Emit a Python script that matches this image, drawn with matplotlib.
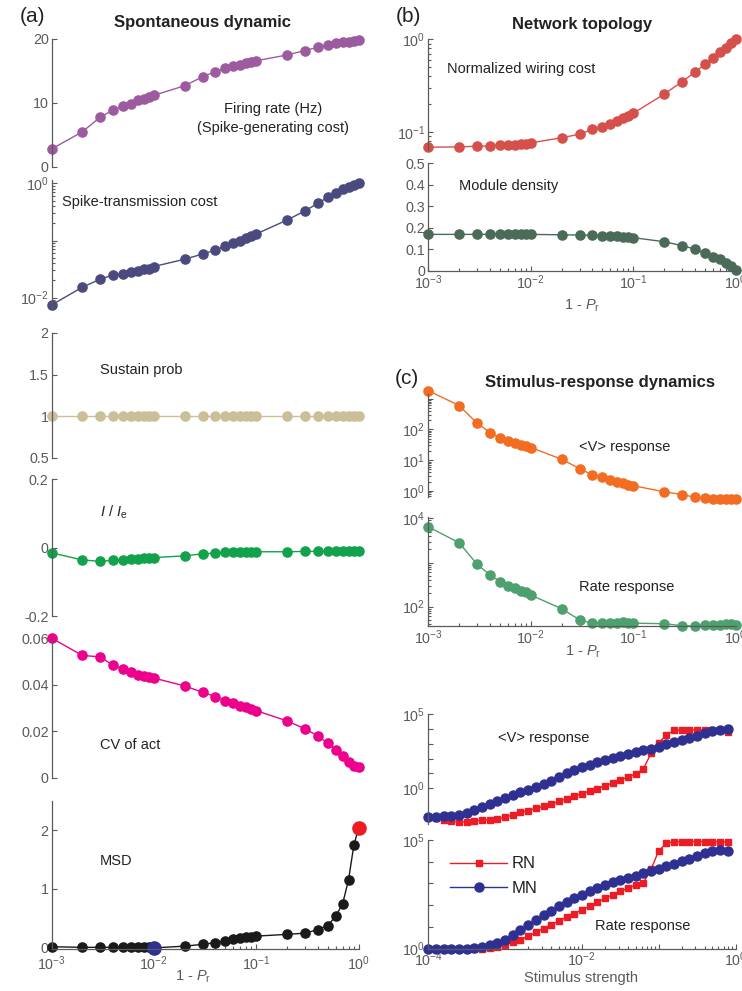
import numpy as np
import matplotlib
matplotlib.use('Agg')
from matplotlib import pyplot as plt
from matplotlib.ticker import NullFormatter, NullLocator, LogLocator, FuncFormatter

plt.rcParams['font.family'] = ['Liberation Sans', 'DejaVu Sans']
plt.rcParams['mathtext.fontset'] = 'custom'
plt.rcParams['mathtext.rm'] = 'Liberation Sans'
plt.rcParams['mathtext.it'] = 'Liberation Sans:italic'
plt.rcParams['mathtext.bf'] = 'Liberation Sans:bold'
plt.rcParams['axes.unicode_minus'] = False

# ---- data: 1 - Pr sweep ----
pr = [0.001, 0.002, 0.003, 0.004, 0.005, 0.006, 0.007, 0.008, 0.009, 0.01,
      0.02, 0.03, 0.04, 0.05, 0.06, 0.07, 0.08, 0.09, 0.1,
      0.2, 0.3, 0.4, 0.5, 0.6, 0.7, 0.8, 0.9, 1.0]
firing = [2.8, 5.5, 7.8, 8.9, 9.5, 9.9, 10.4, 10.7, 10.9, 11.2,
          12.7, 14.1, 14.9, 15.4, 15.8, 16.0, 16.2, 16.4, 16.6,
          17.5, 18.2, 18.7, 19.1, 19.3, 19.5, 19.6, 19.7, 19.8]
spike_cost = [0.0074, 0.0152, 0.021, 0.025, 0.026, 0.0285, 0.0296, 0.0314, 0.032, 0.035,
              0.047, 0.058, 0.068, 0.080, 0.091, 0.099, 0.109, 0.12, 0.13,
              0.228, 0.33, 0.447, 0.57, 0.69, 0.79, 0.87, 0.94, 1.0]
sustain = [1, 1, 1, 1, 1, 1, 1, 1, 1, 1,
           1, 1, 1, 1, 1, 1, 1, 1, 1,
           1, 1, 1, 1, 1, 1, 1, 1, 1]
ratio_ie = [-0.015, -0.036, -0.040, -0.037, -0.035, -0.034, -0.032, -0.031, -0.030, -0.029,
            -0.024, -0.018, -0.016, -0.014, -0.0135, -0.013, -0.013, -0.013, -0.012,
            -0.012, -0.011, -0.011, -0.011, -0.011, -0.011, -0.011, -0.011, -0.011]
cv_act = [0.060, 0.0525, 0.0519, 0.0482, 0.0469, 0.0452, 0.0443, 0.0437, 0.0434, 0.0428,
          0.0394, 0.0367, 0.0348, 0.0331, 0.032, 0.031, 0.0303, 0.0295, 0.0288,
          0.0244, 0.021, 0.018, 0.0148, 0.0119, 0.0093, 0.0069, 0.0052, 0.0045]
msd = [0.02, 0.01, 0.01, 0.01, 0.01, 0.01, 0.01, 0.01, 0.01, 0.0,
       0.03, 0.06, 0.09, 0.12, 0.15, 0.17, 0.18, 0.19, 0.2,
       0.23, 0.25, 0.31, 0.38, 0.54, 0.75, 1.16, 1.74, 2.03]
wiring = [0.068, 0.0685, 0.0697, 0.070, 0.0717, 0.072, 0.0725, 0.073, 0.074, 0.0757,
          0.086, 0.094, 0.106, 0.113, 0.121, 0.131, 0.139, 0.148, 0.158,
          0.254, 0.347, 0.439, 0.536, 0.622, 0.72, 0.81, 0.905, 1.0]
module = [0.170, 0.170, 0.170, 0.170, 0.170, 0.170, 0.170, 0.170, 0.170, 0.170,
          0.168, 0.167, 0.165, 0.164, 0.163, 0.162, 0.160, 0.158, 0.155,
          0.136, 0.118, 0.102, 0.085, 0.067, 0.054, 0.039, 0.023, 0.005]
v_resp = [1820, 595, 158, 79, 52, 42, 37, 32, 29, 25.7,
          10.7, 5.3, 3.3, 2.8, 2.3, 1.96, 1.78, 1.6, 1.48,
          0.93, 0.76, 0.62, 0.59, 0.56, 0.56, 0.56, 0.56, 0.56]
rate_resp = [6460, 2810, 910, 525, 370, 296, 263, 230, 209, 183,
             90, 50, 42, 43, 43, 43, 44, 43, 42,
             41, 37, 36, 39, 38, 39, 40, 40, 39]

# ---- data: stimulus sweep (log10 of stimulus and responses) ----
stim_exp = [-4.0, -3.9, -3.8, -3.7, -3.6, -3.5, -3.4, -3.3, -3.2, -3.1,
            -3.0, -2.9, -2.8, -2.7, -2.6, -2.5, -2.4, -2.3, -2.2, -2.1,
            -2.0, -1.9, -1.8, -1.7, -1.6, -1.5, -1.4, -1.3, -1.2, -1.1,
            -1.0, -0.9, -0.8, -0.7, -0.6, -0.5, -0.4, -0.3, -0.2, -0.1]
mn_v_log = [-1.91, -1.90, -1.88, -1.84, -1.78, -1.65, -1.48, -1.28, -1.07, -0.85,
            -0.64, -0.45, -0.27, -0.09, 0.09, 0.30, 0.52, 0.76, 1.00, 1.22,
            1.42, 1.60, 1.76, 1.92, 2.05, 2.17, 2.29, 2.42, 2.55, 2.66,
            2.78, 2.95, 3.10, 3.24, 3.37, 3.53, 3.71, 3.88, 3.94, 3.97]
rn_v_log = [-1.95, -2.00, -2.15, -2.22, -2.25, -2.25, -2.20, -2.15, -2.12, -2.05,
            -1.95, -1.78, -1.62, -1.50, -1.35, -1.22, -1.05, -0.88, -0.70, -0.52,
            -0.36, -0.18, -0.02, 0.17, 0.36, 0.56, 0.75, 0.98, 1.30, 2.35,
            3.05, 3.60, 3.90, 3.92, 3.93, 3.93, 3.93, 3.92, 3.90, 3.81]
mn_rate_log = [0.0, 0.0, 0.0, 0.0, 0.0, 0.0, 0.02, 0.06, 0.14, 0.26,
               0.41, 0.60, 0.83, 1.07, 1.31, 1.53, 1.74, 1.94, 2.13, 2.31,
               2.48, 2.64, 2.80, 2.94, 3.05, 3.15, 3.26, 3.36, 3.46, 3.56,
               3.66, 3.78, 3.90, 4.02, 4.14, 4.26, 4.38, 4.48, 4.52, 4.50]
rn_rate_log = [0.0, 0.0, 0.0, 0.0, 0.0, 0.0, 0.0, 0.0, 0.02, 0.08,
               0.18, 0.28, 0.40, 0.56, 0.74, 0.92, 1.10, 1.27, 1.44, 1.61,
               1.78, 1.95, 2.13, 2.31, 2.47, 2.63, 2.78, 2.92, 3.02, 3.65,
               4.50, 4.85, 4.92, 4.93, 4.93, 4.93, 4.93, 4.93, 4.93, 4.91]

stim = 10.0 ** np.array(stim_exp)

W, H = 742, 991
GREY = '#5a5a5a'
TXT = '#222222'

fig = plt.figure(figsize=(W / 100, H / 100), dpi=100)


def px_axes(x0, x1, ytop, ybot):
    return fig.add_axes([x0 / W, 1 - ybot / H, (x1 - x0) / W, (ybot - ytop) / H])


def style(ax, xaxis=False, xpad=4.5):
    ax.set_facecolor('none')
    ax.spines['top'].set_visible(False)
    ax.spines['right'].set_visible(False)
    ax.spines['left'].set_color(GREY)
    ax.spines['bottom'].set_color(GREY)
    ax.spines['left'].set_linewidth(0.9)
    ax.spines['bottom'].set_linewidth(0.9)
    ax.tick_params(which='both', direction='in', colors=GREY, labelsize=10.3, pad=2, width=0.8)
    ax.tick_params(which='major', length=3.5)
    ax.tick_params(which='minor', length=2)
    if not xaxis:
        ax.spines['bottom'].set_visible(False)
        ax.tick_params(axis='x', which='both', bottom=False, labelbottom=False)
    else:
        ax.tick_params(axis='x', pad=xpad)
    ax.yaxis.set_minor_formatter(NullFormatter())
    ax.xaxis.set_minor_formatter(NullFormatter())


def gfmt(v, pos):
    return '%g' % v


def ftext(x, y, s, **kw):
    kw.setdefault('fontsize', 10.5)
    kw.setdefault('color', TXT)
    kw.setdefault('va', 'center')
    fig.text(x / W, 1 - y / H, s, **kw)


def dots(ax, x, y, c, **kw):
    ax.plot(x, y, '-o', color=c, lw=1.0, ms=6.6, mec=c, mfc=c, clip_on=False, **kw)


LX0, LX1 = 51.5, 358.5
RX0, RX1 = 428.3, 735.5

# ---- (a) firing rate ----
ax = px_axes(LX0, LX1, 39, 167)
dots(ax, pr, firing, '#9C5B9E')
ax.set_xscale('log')
ax.set_xlim(1e-3, 1)
ax.set_ylim(0, 20)
ax.set_yticks([0, 10, 20])
style(ax)

# ---- spike transmission cost ----
ax = px_axes(LX0, LX1, 180, 309)
dots(ax, pr, spike_cost, '#4B4A7E')
ax.set_xscale('log')
ax.set_yscale('log')
ax.set_xlim(1e-3, 1)
ax.set_ylim(10 ** -2.2, 10 ** 0.06)
ax.set_yticks([1e-2, 1e-1, 1], ['$10^{-2}$', '', '$10^{0}$'])
ax.yaxis.set_minor_locator(LogLocator(base=10, subs=np.arange(2, 10), numticks=20))
style(ax)

# ---- sustain prob ----
ax = px_axes(LX0, LX1, 333, 457.7)
dots(ax, pr, sustain, '#C9BF98')
ax.set_xscale('log')
ax.set_xlim(1e-3, 1)
ax.set_ylim(0.5, 2)
ax.set_yticks([0.5, 1, 1.5, 2])
ax.yaxis.set_major_formatter(FuncFormatter(gfmt))
style(ax)

# ---- I / Ie ----
ax = px_axes(LX0, LX1, 479.3, 616)
dots(ax, pr, ratio_ie, '#13A24C')
ax.set_xscale('log')
ax.set_xlim(1e-3, 1)
ax.set_ylim(-0.2, 0.2)
ax.set_yticks([-0.2, 0, 0.2])
ax.yaxis.set_major_formatter(FuncFormatter(gfmt))
style(ax)

# ---- CV of act ----
ax = px_axes(LX0, LX1, 638, 777.7)
dots(ax, pr, cv_act, '#EC008C')
ax.set_xscale('log')
ax.set_xlim(1e-3, 1)
ax.set_ylim(0, 0.06)
ax.set_yticks([0, 0.02, 0.04, 0.06])
ax.yaxis.set_major_formatter(FuncFormatter(gfmt))
style(ax)

# ---- MSD ----
ax = px_axes(LX0, LX1, 800.6, 948.5)
dots(ax, pr, msd, '#1A1A1A')
ax.plot([pr[9]], [msd[9]], 'o', color='#2E3192', ms=9.5, clip_on=False)
ax.plot([pr[-1]], [msd[-1]], 'o', color='#ED1C24', ms=9.5, clip_on=False)
ax.set_xscale('log')
ax.set_xlim(1e-3, 1)
ax.set_ylim(-0.01, 2.5)
ax.set_yticks([0, 1, 2])
style(ax, xaxis=True, xpad=4.5)

# ---- (b) wiring cost ----
ax = px_axes(RX0, RX1, 39.3, 150.2)
dots(ax, pr, wiring, '#D6504B')
ax.set_xscale('log')
ax.set_yscale('log')
ax.set_xlim(1e-3, 1)
ax.set_ylim(10 ** -1.2, 1)
ax.set_yticks([1e-1, 1], ['$10^{-1}$', '$10^{0}$'])
ax.yaxis.set_minor_locator(LogLocator(base=10, subs=np.arange(2, 10), numticks=20))
style(ax)

# ---- module density ----
ax = px_axes(RX0, RX1, 163.3, 271)
dots(ax, pr, module, '#4A6B58')
ax.set_xscale('log')
ax.set_xlim(1e-3, 1)
ax.set_ylim(0, 0.5)
ax.set_yticks([0, 0.1, 0.2, 0.3, 0.4, 0.5])
ax.yaxis.set_major_formatter(FuncFormatter(gfmt))
style(ax, xaxis=True, xpad=1.5)

# ---- (c) <V> response vs 1-Pr ----
ax = px_axes(RX0, RX1, 394, 497)
dots(ax, pr, v_resp, '#F26C22')
ax.set_xscale('log')
ax.set_yscale('log')
ax.set_xlim(1e-3, 1)
ax.set_ylim(10 ** -0.2, 10 ** 3.15)
ax.set_yticks([1, 10, 100, 1000], ['$10^{0}$', '$10^{1}$', '$10^{2}$', ''])
ax.yaxis.set_minor_locator(LogLocator(base=10, subs=np.arange(2, 10), numticks=20))
style(ax)

# ---- rate response vs 1-Pr ----
ax = px_axes(RX0, RX1, 516.7, 626)
dots(ax, pr, rate_resp, '#4EA06E')
ax.set_xscale('log')
ax.set_yscale('log')
ax.set_xlim(1e-3, 1)
ax.set_ylim(10 ** 1.56, 10 ** 4.04)
ax.set_yticks([1e2, 1e3, 1e4], ['$10^{2}$', '', '$10^{4}$'])
ax.yaxis.set_minor_locator(LogLocator(base=10, subs=np.arange(2, 10), numticks=20))
style(ax, xaxis=True, xpad=1.5)

# ---- <V> response vs stimulus ----
ax = px_axes(RX0, RX1, 714, 824)
ax.plot(stim, 10.0 ** np.array(rn_v_log), '-s', color='#ED1C24', lw=1.0, ms=4.8, clip_on=False)
ax.plot(stim, 10.0 ** np.array(mn_v_log), '-o', color='#2E3192', lw=1.0, ms=6.5, clip_on=False)
ax.set_xscale('log')
ax.set_yscale('log')
ax.set_xlim(1e-4, 1)
ax.set_ylim(10 ** -2.4, 1e5)
ax.set_yticks([1e0, 1e1, 1e2, 1e3, 1e4, 1e5], ['$10^{0}$', '', '', '', '', '$10^{5}$'])
ax.yaxis.set_minor_locator(NullLocator())
style(ax)

# ---- rate response vs stimulus ----
ax = px_axes(RX0, RX1, 840, 948.5)
ax.plot(stim, 10.0 ** np.array(rn_rate_log), '-s', color='#ED1C24', lw=1.0, ms=4.8,
        clip_on=False, label='RN')
ax.plot(stim, 10.0 ** np.array(mn_rate_log), '-o', color='#2E3192', lw=1.0, ms=6.5,
        clip_on=False, label='MN')
ax.set_xscale('log')
ax.set_yscale('log')
ax.set_xlim(1e-4, 1)
ax.set_ylim(1, 1e5)
ax.set_yticks([1e0, 1e1, 1e2, 1e3, 1e4, 1e5], ['$10^{0}$', '', '', '', '', '$10^{5}$'])
ax.yaxis.set_minor_locator(NullLocator())
ax.set_xticks([1e-4, 1e-3, 1e-2, 1e-1, 1], ['$10^{-4}$', '', '$10^{-2}$', '', '$10^{0}$'])
ax.xaxis.set_minor_locator(LogLocator(base=10, subs=np.arange(2, 10), numticks=20))
style(ax, xaxis=True, xpad=1.5)
leg = ax.legend(loc='upper left', bbox_to_anchor=(0.05, 0.91), frameon=False,
                handlelength=3.4, fontsize=12, labelspacing=0.55, handletextpad=0.3,
                borderaxespad=0)
for t in leg.get_texts():
    t.set_color(TXT)

# ---- texts ----
ftext(20, 16, '(a)', fontsize=15)
ftext(202, 23, 'Spontaneous dynamic', fontsize=12, fontweight='bold', ha='center')
ftext(396, 16, '(b)', fontsize=15)
ftext(582, 25, 'Network topology', fontsize=12, fontweight='bold', ha='center')
ftext(395, 378, '(c)', fontsize=15)
ftext(600, 382, 'Stimulus-response dynamics', fontsize=12, fontweight='bold', ha='center')

ftext(273, 109, 'Firing rate (Hz)', ha='center')
ftext(273, 128, '(Spike-generating cost)', ha='center')
ftext(62, 202, 'Spike-transmission cost')
ftext(100, 370, 'Sustain prob')
ftext(100, 512, r'$I$ / $I_\mathrm{e}$')
ftext(100, 745, 'CV of act')
ftext(100, 861, 'MSD')
ftext(193, 977, r'1 - $P_\mathrm{r}$', ha='center', color=GREY)

ftext(447, 69, 'Normalized wiring cost')
ftext(459, 186, 'Module density')
ftext(582, 306, r'1 - $P_\mathrm{r}$', ha='center', color=GREY)

ftext(579, 447, '<V> response')
ftext(579, 587, 'Rate response')
ftext(583, 652, r'1 - $P_\mathrm{r}$', ha='center', color=GREY)
ftext(498, 738, '<V> response')
ftext(595, 926, 'Rate response')
ftext(581, 978, 'Stimulus strength', ha='center', color=GREY)

fig.savefig('out.png', dpi=100)
